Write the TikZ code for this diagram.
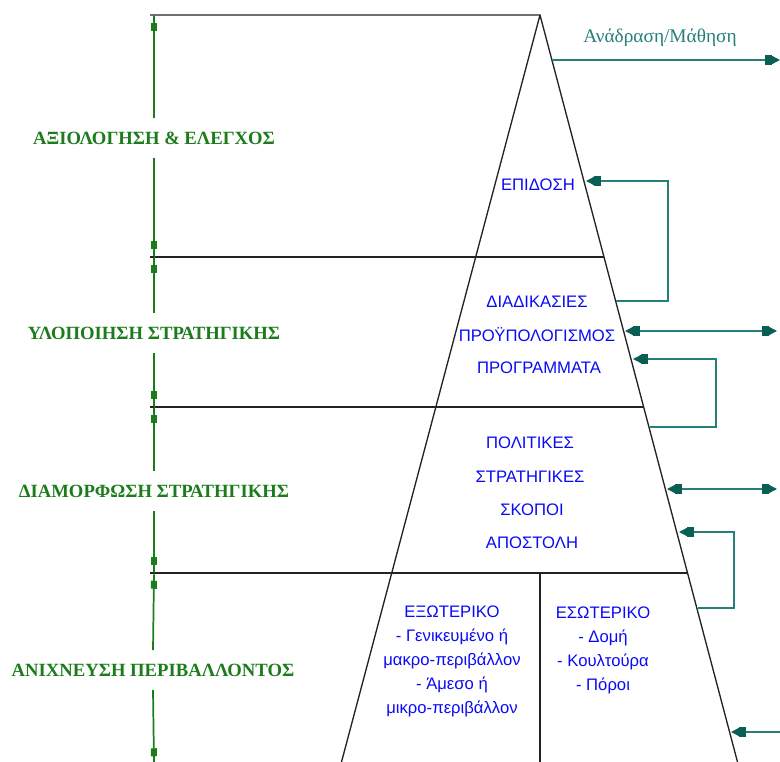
\documentclass[tikz,border=0pt]{standalone}
\usepackage{fontspec}
\setmainfont{Liberation Serif}
\newfontfamily\itemfont{Liberation Sans}
\usepackage{tikz}
\usetikzlibrary{arrows.meta}
\usetikzlibrary{positioning}

\definecolor{stagegreen}{RGB}{28,124,28}
\definecolor{fbteal}{RGB}{38,128,122}
\definecolor{fbtip}{RGB}{10,95,85}
\definecolor{itemblue}{RGB}{10,10,245}
\definecolor{pyrgray}{RGB}{35,35,35}

\begin{document}
\begin{tikzpicture}[x=0.75pt, y=-0.75pt,
    stage/.style={text=stagegreen, font=\bfseries\fontsize{14}{16}\selectfont,
      text height=9.5pt, text depth=0pt, inner xsep=0pt, inner ysep=10pt},
    item/.style={text=itemblue, font=\itemfont\fontsize{12.5}{18}\selectfont, inner sep=0pt},
    fblabel/.style={text=fbteal, font=\fontsize{14.5}{16}\selectfont},
    dimline/.style={draw=stagegreen, line width=1.3pt,
      -{Rectangle[length=6pt,width=4.5pt,sep=4.5pt]Bar[width=.1pt]}},
    frame/.style={draw=pyrgray, line width=1pt},
    fb/.style={draw=fbteal, line width=1pt,
      -{Rectangle[length=5pt,width=7.5pt,color=fbtip]Triangle[length=6pt,width=6pt,color=fbtip]}},
    fbboth/.style={draw=fbteal, line width=1pt,
      {Triangle[length=6pt,width=6pt,color=fbtip]Rectangle[length=5pt,width=7.5pt,color=fbtip]}-{Rectangle[length=5pt,width=7.5pt,color=fbtip]Triangle[length=6pt,width=6pt,color=fbtip]}}
  ]
  \useasboundingbox (0,0) rectangle (780,762);

  % pyramid
  \coordinate (apex) at (540,15);
  \coordinate (lb) at (341.5,762);
  \coordinate (rb) at (737.5,762);
  \draw[frame] (150,15) -- (apex) -- (rb);
  \draw[frame] (apex) -- (lb);
  \draw[frame] (150,257) -- (604,257);
  \draw[frame] (150,407) -- (643.6,407);
  \draw[frame] (150,573) -- (687.5,573);
  \draw[frame] (540,573) -- (540,762);

  % stages on the left
  \coordinate (l0) at (154,15);
  \coordinate (l1) at (154,257);
  \coordinate (l2) at (154,407);
  \coordinate (l3) at (154,573);
  \coordinate (l4) at (154,764);
  \node[stage] (eval) at (154,138) {ΑΞΙΟΛΟΓΗΣΗ \& ΕΛΕΓΧΟΣ};
  \node[stage] (impl) at (154,333) {ΥΛΟΠΟΙΗΣΗ ΣΤΡΑΤΗΓΙΚΗΣ};
  \node[stage] (form) at (154,491) {ΔΙΑΜΟΡΦΩΣΗ ΣΤΡΑΤΗΓΙΚΗΣ};
  \node[stage] (scan) at (153,670) {ΑΝΙΧΝΕΥΣΗ ΠΕΡΙΒΑΛΛΟΝΤΟΣ};
  \foreach \lab/\up/\down in {eval/l0/l1, impl/l1/l2, form/l2/l3, scan/l3/l4}{
    \draw[dimline] (\lab.north) -- (\up);
    \draw[dimline] (\lab.south) -- (\down);
  }

  % contents of the pyramid
  \node[item] (epidosi) at (538,185) {ΕΠΙΔΟΣΗ};
  \node[item] (diad) at (537,302) {ΔΙΑΔΙΚΑΣΙΕΣ};
  \node[item] (budget) at (537,335) {ΠΡΟΫΠΟΛΟΓΙΣΜΟΣ};
  \node[item] (progr) at (539,368) {ΠΡΟΓΡΑΜΜΑΤΑ};
  \node[item] (polit) at (530,443) {ΠΟΛΙΤΙΚΕΣ};
  \node[item] (strat) at (530,477) {ΣΤΡΑΤΗΓΙΚΕΣ};
  \node[item] (skopoi) at (532,510) {ΣΚΟΠΟΙ};
  \node[item] (apost) at (532,543) {ΑΠΟΣΤΟΛΗ};
  \node[item, align=center] (envext) at (452,661)
    {ΕΞΩΤΕΡΙΚΟ\\- Γενικευμένο ή\\μακρο-περιβάλλον\\- Άμεσο ή\\μικρο-περιβάλλον};
  \node[item, align=center] (envint) at (603,650)
    {ΕΣΩΤΕΡΙΚΟ\\- Δομή\\- Κουλτούρα\\- Πόροι};

  % feedback on the right
  \coordinate (fb0) at (552,60);
  \coordinate (fb1) at (780,60);
  \draw[fb] (fb0) -- (fb1);
  \node[fblabel] (fbl) at (660,38) {Ανάδραση/Μάθηση};

  \coordinate (e1) at (616,301);
  \coordinate (e1t) at (586,181);
  \draw[fb] (e1) -- (668,301) |- (e1t);
  \coordinate (d1) at (625,331);
  \coordinate (d1t) at (777,331);
  \draw[fbboth] (d1) -- (d1t);
  \coordinate (e2) at (650,427);
  \coordinate (e2t) at (633,359);
  \draw[fb] (e2) -- (716,427) |- (e2t);
  \coordinate (d2) at (667,489);
  \coordinate (d2t) at (777,489);
  \draw[fbboth] (d2) -- (d2t);
  \coordinate (e3) at (698,608);
  \coordinate (e3t) at (679,532);
  \draw[fb] (e3) -- (734,608) |- (e3t);
  \coordinate (e4) at (780,732);
  \coordinate (e4t) at (731,732);
  \draw[fb] (e4) -- (e4t);
\end{tikzpicture}
\end{document}
